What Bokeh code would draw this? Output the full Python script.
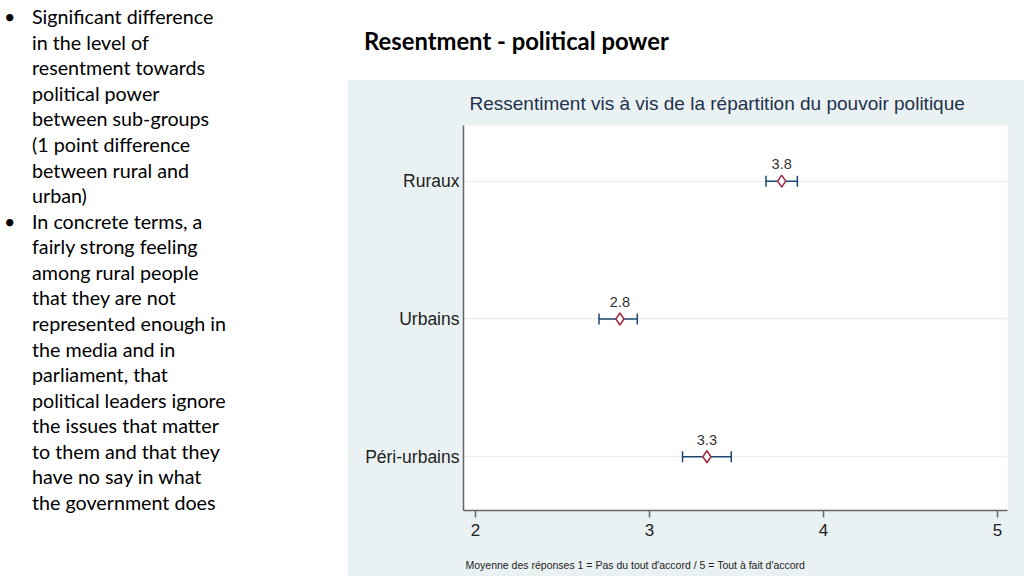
from bokeh.plotting import figure
from bokeh.models import (Range1d, FixedTicker, ColumnDataSource, Whisker, TeeHead, Title, Div)
from bokeh.layouts import row, column
from bokeh.core.properties import value
from bokeh.embed import file_html
from bokeh.resources import INLINE

# ---- data ----
categories = ["Ruraux", "Urbains", "Péri-urbains"]
means = [3.76, 2.83, 3.33]
ci_low = [3.67, 2.71, 3.19]
ci_high = [3.85, 2.93, 3.47]
x_ticks = [2, 3, 4, 5]

chart_title = "Ressentiment vis à vis de la répartition du pouvoir politique"
footnote = "Moyenne des réponses 1 = Pas du tout d'accord / 5 = Tout à fait d'accord"
slide_title = "Resentment - political power"
bullets = [
    ["Significant difference", "in the level of", "resentment towards", "political power",
     "between sub-groups", "(1 point difference", "between rural and", "urban)"],
    ["In concrete terms, a", "fairly strong feeling", "among rural people", "that they are not",
     "represented enough in", "the media and in", "parliament, that",
     "political leaders ignore", "the issues that matter", "to them and that they",
     "have no say in what", "the government does"],
]

PANEL = "#eaf1f3"
NAVY = "#1a476f"
CRAN = "#a3283f"
CHART_FONT = "Liberation Sans"
SLIDE_FONT = "Lato"

LEFT_W, TOP_H = 347, 79
CH_W, CH_H = 1024 - LEFT_W, 576 - TOP_H

# ---- left: bullet text (HTML) ----
line_h = 25.58
parts = []
i = 0
for group in bullets:
    for j, line in enumerate(group):
        ry = 17 + i * line_h
        if j == 0:
            parts.append(f'<div style="position:absolute;left:4px;top:{ry - 13:.1f}px;'
                         f'line-height:26px;">&#8226;</div>')
        parts.append(f'<div style="position:absolute;left:32px;top:{ry - 13:.1f}px;'
                     f'line-height:26px;white-space:nowrap;">{line}</div>')
        i += 1
left_html = (f'<div style="position:relative;width:{LEFT_W}px;height:576px;'
             f'font-family:{SLIDE_FONT};font-size:19.7px;color:#000;">' + "".join(parts) + '</div>')
left = Div(text=left_html, width=LEFT_W, height=576, margin=(0, 0, 0, 0),
           styles={"background-color": "white"})

# ---- top: slide title (HTML) ----
top_html = (f'<div style="position:relative;width:{CH_W}px;height:{TOP_H}px;">'
            f'<div style="position:absolute;left:{364 - LEFT_W}px;top:{41 - 16}px;line-height:32px;'
            f'font-family:{SLIDE_FONT};font-weight:bold;font-size:23.8px;color:#000;'
            f'white-space:nowrap;">{slide_title}</div></div>')
top = Div(text=top_html, width=CH_W, height=TOP_H, margin=(0, 0, 0, 0),
          styles={"background-color": "white"})

# ---- chart ----
ypos = list(range(len(categories)))
p = figure(width=CH_W, height=CH_H, output_backend="svg", toolbar_location=None,
           x_range=Range1d(1.931, 5.058), y_range=Range1d(2.39, -0.404),
           min_border_left=116, min_border_right=17, min_border_top=45, min_border_bottom=65)
p.border_fill_color = PANEL
p.background_fill_color = "white"
p.outline_line_color = None

p.title = Title(text=chart_title, align="left", offset=6, standoff=23, text_font=CHART_FONT,
                text_font_size="19px", text_font_style="normal", text_color="#22324a")

p.xaxis.ticker = FixedTicker(ticks=x_ticks)
p.xaxis.minor_tick_line_color = None
p.xaxis.major_tick_out = 7
p.xaxis.major_tick_in = 0
p.xaxis.major_label_text_font = CHART_FONT
p.xaxis.major_label_text_font_size = "17px"
p.xaxis.major_label_text_color = "#222222"
p.xaxis.major_label_standoff = 6
p.xaxis.axis_line_color = "#666666"
p.xaxis.axis_line_width = 1.5
p.xaxis.major_tick_line_color = "#666666"
p.xaxis.major_tick_line_width = 1.5
# invisible spacer label to push the footnote lower
p.xaxis.axis_label = " "
p.xaxis.axis_label_text_font_size = "8px"
p.xaxis.axis_label_standoff = 0

p.yaxis.ticker = FixedTicker(ticks=ypos)
p.yaxis.major_label_overrides = {k: c for k, c in zip(ypos, categories)}
p.yaxis.minor_tick_line_color = None
p.yaxis.major_tick_line_color = None
p.yaxis.major_tick_out = 0
p.yaxis.major_tick_in = 0
p.yaxis.major_label_standoff = 4
p.yaxis.major_label_text_font = CHART_FONT
p.yaxis.major_label_text_font_size = "17.5px"
p.yaxis.major_label_text_color = "#222222"
p.yaxis.axis_line_color = "#666666"
p.yaxis.axis_line_width = 1.5

p.xgrid.grid_line_color = None
p.ygrid.ticker = FixedTicker(ticks=ypos)
p.ygrid.grid_line_color = "#eeeeee"
p.ygrid.grid_line_width = 1.5

src = ColumnDataSource(dict(y=ypos, m=means, lo=ci_low, hi=ci_high,
                            lab=[f"{v:.1f}" for v in means]))
wh = Whisker(source=src, base="y", lower="lo", upper="hi", dimension="width",
             line_color=NAVY, line_width=1.5,
             lower_head=TeeHead(size=11, line_color=NAVY, line_width=1.5),
             upper_head=TeeHead(size=11, line_color=NAVY, line_width=1.5))
p.add_layout(wh)
p.scatter(x="m", y="y", source=src, marker="diamond", size=12,
          fill_color="white", line_color=CRAN, line_width=1.5)
p.text(x="m", y="y", text="lab", source=src, y_offset=-17,
       text_align="center", text_baseline="middle",
       text_font=value(CHART_FONT), text_font_size="14.5px", text_color="#333333")

p.add_layout(Title(text=footnote, align="left", offset=2, standoff=12, text_font=CHART_FONT,
                   text_font_size="10.5px", text_font_style="normal", text_color="#222222"),
             "below")

layout = row(left, column(top, p, spacing=0), spacing=0)
open("out.html", "w").write(file_html(layout, INLINE))
